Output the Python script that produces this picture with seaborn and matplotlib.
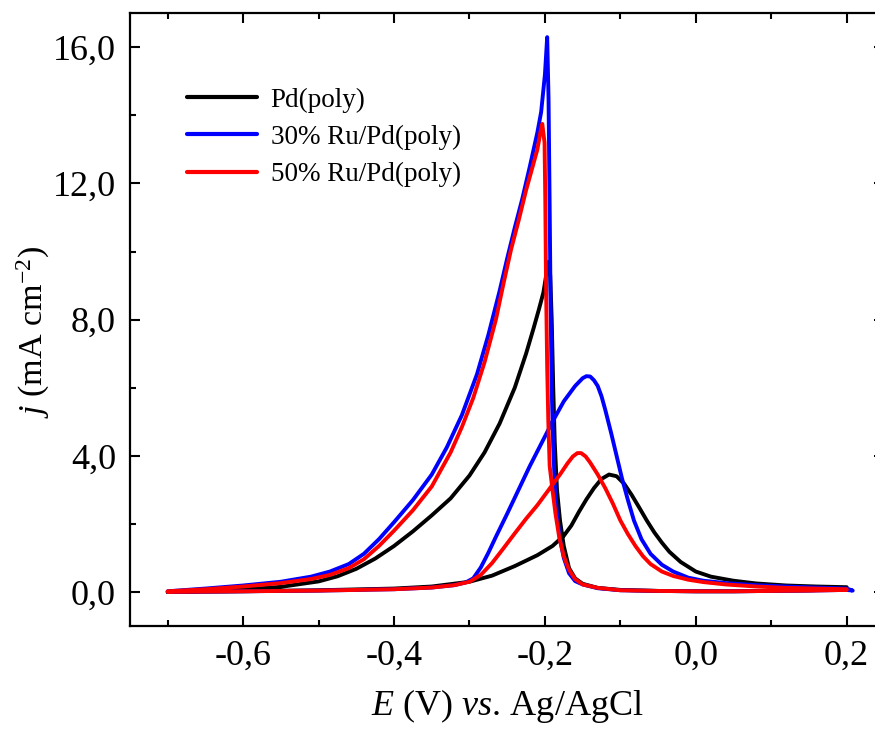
import matplotlib
matplotlib.use('Agg')
import matplotlib.pyplot as plt
import seaborn as sns
import pandas as pd
from matplotlib.ticker import MultipleLocator, FuncFormatter

# Pd(poly): forward scan (-0.7 -> 0.2) then reverse scan (0.2 -> -0.7)
pd_E = [-0.70, -0.60, -0.50, -0.40, -0.35, -0.30, -0.27, -0.24, -0.21, -0.19,
        -0.175, -0.165, -0.155, -0.145, -0.135, -0.125, -0.115, -0.105, -0.095,
        -0.085, -0.075, -0.065, -0.055, -0.045, -0.035, -0.02, 0.00, 0.02, 0.05,
        0.08, 0.12, 0.16, 0.20,
        0.20, 0.15, 0.10, 0.05, 0.00, -0.05, -0.10, -0.13, -0.15, -0.16, -0.168,
        -0.175, -0.180, -0.184, -0.187, -0.189, -0.191, -0.193, -0.195, -0.198,
        -0.202, -0.208, -0.215, -0.225, -0.24, -0.26, -0.28, -0.30, -0.325, -0.35,
        -0.375, -0.40, -0.425, -0.45, -0.475, -0.50, -0.55, -0.60, -0.65, -0.70]
pd_j = [0.00, 0.02, 0.05, 0.10, 0.16, 0.30, 0.48, 0.76, 1.08, 1.35,
        1.65, 1.95, 2.35, 2.72, 3.05, 3.32, 3.45, 3.40, 3.18,
        2.85, 2.48, 2.10, 1.75, 1.45, 1.18, 0.88, 0.60, 0.45, 0.33,
        0.25, 0.19, 0.16, 0.14,
        0.08, 0.05, 0.03, 0.02, 0.02, 0.03, 0.06, 0.12, 0.24, 0.40, 0.70,
        1.35, 2.1, 3.0, 4.4, 6.0, 8.0, 9.3, 9.7, 9.35,
        8.8, 8.3, 7.75, 7.0, 6.0, 4.95, 4.1, 3.42, 2.75, 2.25,
        1.78, 1.35, 0.98, 0.68, 0.46, 0.31, 0.15, 0.07, 0.03, 0.00]

# 30% Ru/Pd(poly)
ru30_E = [-0.70, -0.60, -0.50, -0.40, -0.35, -0.32, -0.305, -0.295, -0.285, -0.275,
          -0.265, -0.25, -0.235, -0.22, -0.205, -0.19, -0.175, -0.16, -0.15, -0.145,
          -0.14, -0.135, -0.13, -0.125, -0.12, -0.112, -0.105, -0.098, -0.09, -0.082,
          -0.072, -0.06, -0.045, -0.03, -0.01, 0.01, 0.04, 0.08, 0.12, 0.16, 0.20,
          0.208,
          0.20, 0.15, 0.10, 0.05, 0.00, -0.05, -0.10, -0.13, -0.15, -0.16, -0.168,
          -0.175, -0.18, -0.184, -0.187, -0.189, -0.191, -0.1925, -0.1938, -0.1952,
          -0.197, -0.200, -0.205, -0.21, -0.22, -0.23, -0.24, -0.25, -0.26, -0.275,
          -0.29, -0.31, -0.33, -0.35, -0.375, -0.40, -0.42, -0.44, -0.46, -0.485,
          -0.51, -0.55, -0.60, -0.65, -0.70]
ru30_j = [0.00, 0.02, 0.04, 0.08, 0.13, 0.20, 0.28, 0.40, 0.72, 1.15,
          1.62, 2.3, 3.0, 3.7, 4.35, 5.0, 5.6, 6.05, 6.28, 6.34,
          6.33, 6.22, 6.05, 5.75, 5.35, 4.65, 4.0, 3.35, 2.7, 2.1,
          1.55, 1.12, 0.80, 0.60, 0.42, 0.33, 0.26, 0.20, 0.16, 0.13, 0.10,
          0.04,
          0.06, 0.04, 0.03, 0.02, 0.02, 0.03, 0.05, 0.11, 0.22, 0.32, 0.55,
          1.0, 1.55, 2.3, 3.2, 4.3, 6.0, 8.5, 11.5, 14.5,
          16.3, 15.2, 14.1, 13.5, 12.5, 11.55, 10.7, 9.8, 8.85, 7.55,
          6.4, 5.2, 4.25, 3.45, 2.7, 2.05, 1.55, 1.12, 0.82, 0.6,
          0.45, 0.30, 0.19, 0.10, 0.02]

# 50% Ru/Pd(poly)
ru50_E = [-0.70, -0.60, -0.50, -0.40, -0.35, -0.32, -0.30, -0.285, -0.27, -0.255,
          -0.24, -0.225, -0.21, -0.195, -0.18, -0.17, -0.163, -0.157, -0.152, -0.146,
          -0.14, -0.13, -0.12, -0.11, -0.10, -0.09, -0.08, -0.07, -0.06, -0.045,
          -0.03, -0.01, 0.01, 0.04, 0.08, 0.12, 0.16, 0.20,
          0.20, 0.15, 0.10, 0.05, 0.00, -0.05, -0.10, -0.13, -0.15, -0.16, -0.168,
          -0.175, -0.181, -0.186, -0.19, -0.1937, -0.1955, -0.197, -0.1985, -0.1995,
          -0.2005, -0.2035, -0.206, -0.21, -0.215, -0.225, -0.235, -0.245, -0.255,
          -0.265, -0.28, -0.295, -0.31, -0.325, -0.35, -0.375, -0.40, -0.42, -0.44,
          -0.46, -0.485, -0.51, -0.55, -0.60, -0.65, -0.70]
ru50_j = [0.00, 0.02, 0.04, 0.08, 0.13, 0.20, 0.30, 0.50, 0.85, 1.28,
          1.72, 2.15, 2.55, 3.0, 3.45, 3.78, 3.98, 4.08, 4.08, 3.98,
          3.8, 3.45, 3.05, 2.6, 2.1, 1.7, 1.35, 1.05, 0.82, 0.60,
          0.47, 0.36, 0.29, 0.22, 0.16, 0.12, 0.10, 0.08,
          0.06, 0.04, 0.03, 0.02, 0.02, 0.03, 0.05, 0.12, 0.22, 0.38, 0.65,
          1.05, 1.6, 2.3, 3.0, 3.7, 5.0, 6.6, 9.0, 11.5,
          13.2, 13.75, 13.5, 13.0, 12.6, 11.8, 10.9, 10.05, 9.05,
          8.0, 6.75, 5.7, 4.85, 4.1, 3.1, 2.4, 1.8, 1.35, 0.96,
          0.7, 0.50, 0.38, 0.26, 0.16, 0.08, 0.02]

labels = ['Pd(poly)', '30% Ru/Pd(poly)', '50% Ru/Pd(poly)']
colors = ['black', '#0000ff', '#ff0000']
curves = [(pd_E, pd_j), (ru30_E, ru30_j), (ru50_E, ru50_j)]

sns.set_style('ticks')
plt.rcParams['font.family'] = ['Liberation Serif', 'DejaVu Serif']
plt.rcParams['mathtext.fontset'] = 'custom'
plt.rcParams['mathtext.rm'] = 'Liberation Serif'
plt.rcParams['mathtext.it'] = 'Liberation Serif:italic'
plt.rcParams['text.color'] = 'black'
plt.rcParams['axes.labelcolor'] = 'black'
plt.rcParams['xtick.color'] = 'black'
plt.rcParams['ytick.color'] = 'black'
plt.rcParams['axes.edgecolor'] = 'black'

fig = plt.figure(figsize=(8.75, 7.29), dpi=100)
ax = fig.add_axes([130 / 875, 103 / 729, 754.4 / 875, 612.7 / 729])

for (E, j), lab, col in zip(curves, labels, colors):
    df = pd.DataFrame({'E': E, 'j': j})
    sns.lineplot(data=df, x='E', y='j', sort=False, estimator=None,
                 color=col, lw=2.8, label=lab, ax=ax)

ax.set_xlim(-0.75, 0.25)
ax.set_ylim(-1, 17)
ax.xaxis.set_major_locator(MultipleLocator(0.2))
ax.xaxis.set_minor_locator(MultipleLocator(0.1))
ax.yaxis.set_major_locator(MultipleLocator(4))
ax.yaxis.set_minor_locator(MultipleLocator(2))
fmt = FuncFormatter(lambda v, p: ('%.1f' % v).replace('.', ',').replace('-0,0', '0,0'))
ax.xaxis.set_major_formatter(fmt)
ax.yaxis.set_major_formatter(fmt)

ax.tick_params(which='both', direction='in', top=True, right=True, width=1.5,
               labelsize=26, pad=10)
ax.tick_params(which='major', length=7)
ax.tick_params(which='minor', length=4)
for s in ax.spines.values():
    s.set_linewidth(1.6)

ax.set_xlabel(r'$E$ (V) $vs$. Ag/AgCl', fontsize=26, labelpad=10)
ax.set_ylabel(r'$j$ (mA cm$^{-2}$)', fontsize=24.5)
ax.yaxis.set_label_coords(-0.104, 0.48)

ax.legend(loc='upper left', bbox_to_anchor=(0.075, 0.879), frameon=False,
          fontsize=19.5, handlelength=2.6, handletextpad=0.5, labelspacing=0.45,
          borderpad=0, borderaxespad=0)
for line in ax.get_legend().get_lines():
    line.set_linewidth(3.0)

fig.savefig('out.png', dpi=100)
